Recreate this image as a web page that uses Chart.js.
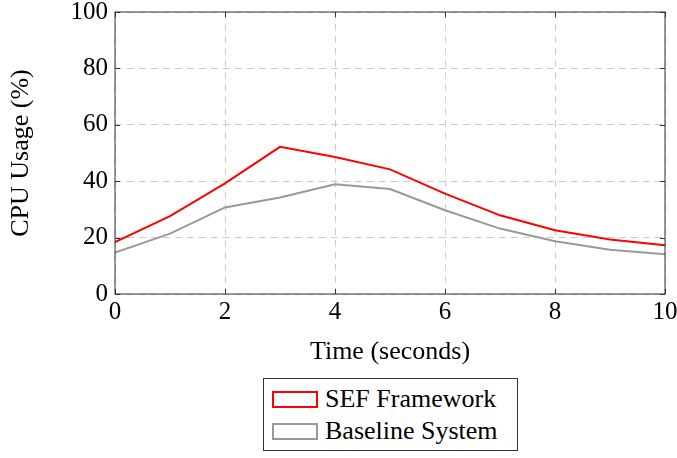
<!DOCTYPE html>
<html>
<head>
<meta charset="utf-8">
<script src="https://cdn.jsdelivr.net/npm/chart.js@4.4.1/dist/chart.umd.min.js"></script>
<style>
  body { margin: 0; background: #fff; font-family: 'Liberation Serif', 'Times New Roman', serif; }
  #wrap { position: relative; width: 677px; height: 372px; }
  #legend {
    position: absolute; left: 263px; top: 378px; width: 255px; height: 73px;
    border: 1px solid #333; box-sizing: border-box; padding: 4px 0 0 8px;
  }
  .item { display: flex; align-items: center; height: 32px; font-size: 26px; color: #000; }
  .swatch { width: 46px; height: 17px; box-sizing: border-box; border: 2px solid; margin-right: 7px; }
</style>
</head>
<body>
<div id="wrap"><canvas id="grafico" width="677" height="372"></canvas></div>
<div id="legend"></div>
<script>
// dados
const tempos = [0, 1, 2, 3, 4, 5, 6, 7, 8, 9, 10];
const sefFramework = [18.4, 27.6, 39.2, 52.2, 48.6, 44.2, 35.6, 27.9, 22.6, 19.3, 17.3];
const baselineSystem = [14.7, 21.4, 30.7, 34.2, 38.9, 37.2, 29.7, 23.2, 18.7, 15.7, 14.1];
const nomes = ['SEF Framework', 'Baseline System'];
const cores = ['#ff0000', '#999999'];

const fonte = 'Liberation Serif';

// moldura e marcas internas no estilo pgfplots
const moldura = {
  id: 'moldura',
  afterDraw(chart) {
    const { ctx, chartArea: a, scales } = chart;
    ctx.save();
    ctx.strokeStyle = '#333';
    ctx.lineWidth = 1;
    ctx.strokeRect(a.left, a.top, a.right - a.left, a.bottom - a.top);
    ctx.beginPath();
    [0, 20, 40, 60, 80, 100].forEach(v => {
      const y = Math.round(scales.y.getPixelForValue(v)) + 0.5;
      ctx.moveTo(a.left, y); ctx.lineTo(a.left + 5, y);
      ctx.moveTo(a.right, y); ctx.lineTo(a.right - 5, y);
    });
    [0, 2, 4, 6, 8, 10].forEach(v => {
      const x = Math.round(scales.x.getPixelForValue(v)) + 0.5;
      ctx.moveTo(x, a.bottom); ctx.lineTo(x, a.bottom - 5);
      ctx.moveTo(x, a.top); ctx.lineTo(x, a.top + 5);
    });
    ctx.stroke();
    ctx.restore();
  }
};

const chart = new Chart(document.getElementById('grafico').getContext('2d'), {
  type: 'line',
  data: {
    datasets: [sefFramework, baselineSystem].map((serie, i) => ({
      label: nomes[i],
      data: serie.map((v, j) => ({ x: tempos[j], y: v })),
      borderColor: cores[i],
      borderWidth: 2,
      pointRadius: 0,
      tension: 0,
      fill: false
    }))
  },
  options: {
    responsive: false,
    animation: false,
    layout: { padding: { top: 0, right: 0, left: 0, bottom: 0 } },
    plugins: { legend: { display: false }, tooltip: { enabled: false } },
    scales: {
      x: {
        type: 'linear', min: 0, max: 10,
        afterFit(scale) { scale.height = 78; scale.paddingRight = 12; scale.paddingLeft = 0; },
        ticks: { stepSize: 2, color: '#000', font: { family: fonte, size: 25 }, padding: 3 },
        grid: { color: '#cccccc', drawTicks: false, tickLength: 0 },
        border: { display: false, dash: [7, 5] },
        title: { display: true, text: 'Time (seconds)', color: '#000', font: { family: fonte, size: 26 }, padding: { top: 0, bottom: 4 } }
      },
      y: {
        min: 0, max: 100,
        afterFit(scale) { scale.width = 115; scale.paddingTop = 12; },
        ticks: { stepSize: 20, color: '#000', font: { family: fonte, size: 25 }, padding: 7 },
        grid: { color: '#cccccc', drawTicks: false, tickLength: 0 },
        border: { display: false, dash: [7, 5] },
        title: { display: true, text: 'CPU Usage (%)', color: '#000', font: { family: fonte, size: 26 }, padding: { top: 6, bottom: 0 } }
      }
    }
  },
  plugins: [moldura]
});

// legenda em HTML
const legenda = document.getElementById('legend');
chart.data.datasets.forEach(ds => {
  const item = document.createElement('div');
  item.className = 'item';
  const sw = document.createElement('span');
  sw.className = 'swatch';
  sw.style.borderColor = ds.borderColor;
  item.appendChild(sw);
  item.appendChild(document.createTextNode(ds.label));
  legenda.appendChild(item);
});
</script>
</body>
</html>
